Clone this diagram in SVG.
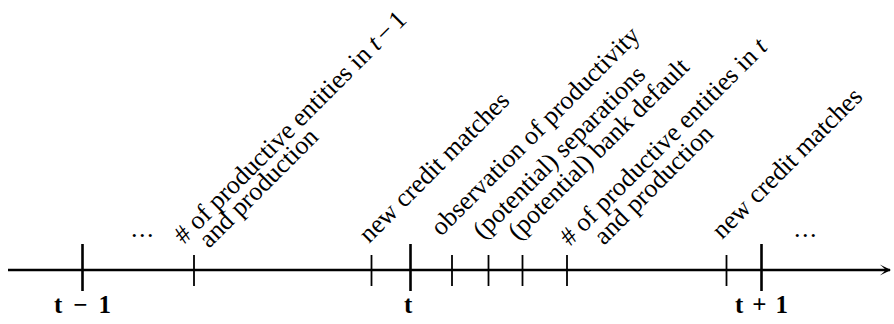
<svg xmlns="http://www.w3.org/2000/svg" width="894" height="324" viewBox="0 0 894 324">
<defs>
<style>
.lbl{font-family:'Liberation Serif','Times New Roman',serif;font-size:26px;fill:#000}
.tl{font-family:'Liberation Serif','DejaVu Serif',serif;font-weight:bold;font-size:25px;fill:#000}
.dots{font-family:'Liberation Serif',serif;font-size:26px;letter-spacing:1.5px;fill:#000}
.major{stroke:#000;stroke-width:2.6}
.minor{stroke:#000;stroke-width:1.8}
.axis{stroke:#000;stroke-width:2.4;fill:none}
</style>
<marker id="arr" viewBox="0 0 10 10" refX="9" refY="5" markerWidth="5" markerHeight="5" orient="auto" markerUnits="strokeWidth">
<path d="M0.5,0.5 Q5,4 5,5 Q5,6 0.5,9.5 L10,5 Z" fill="#000"/>
</marker>
</defs>
<rect width="894" height="324" fill="#fff"/>
<g id="connectors">
<line class="axis" x1="8" y1="270" x2="890" y2="270" marker-end="url(#arr)"/>
</g>
<g id="ticks">
<line class="major" x1="82.5" y1="244" x2="82.5" y2="291"/>
<line class="major" x1="410.5" y1="244" x2="410.5" y2="291"/>
<line class="major" x1="761.5" y1="244" x2="761.5" y2="291"/>
<line class="minor" x1="194" y1="255" x2="194" y2="286"/>
<line class="minor" x1="371.5" y1="255" x2="371.5" y2="286"/>
<line class="minor" x1="452" y1="255" x2="452" y2="286"/>
<line class="minor" x1="488.5" y1="255" x2="488.5" y2="286"/>
<line class="minor" x1="522.5" y1="255" x2="522.5" y2="286"/>
<line class="minor" x1="567" y1="255" x2="567" y2="286"/>
<line class="minor" x1="726.5" y1="255" x2="726.5" y2="286"/>
</g>
<g id="time-labels">
<text class="tl" x="54" y="313">t<tspan dx="11">−</tspan><tspan dx="11">1</tspan></text>
<text class="tl" x="404" y="313">t</text>
<text class="tl" x="735" y="313">t<tspan dx="9">+</tspan><tspan dx="9">1</tspan></text>
</g>
<g id="dots">
<text class="dots" x="131" y="237">...</text>
<text class="dots" x="794" y="237">...</text>
</g>
<g id="ev1">
<text class="lbl" transform="translate(184,245) rotate(-45)"># of productive entities in <tspan font-style="italic">t</tspan><tspan dx="4">−</tspan><tspan dx="4">1</tspan></text>
<text class="lbl" transform="translate(209,249) rotate(-45)">and production</text>
</g>
<g id="ev2"><text class="lbl" transform="translate(369,244) rotate(-45)">new credit matches</text></g>
<g id="ev3"><text class="lbl" transform="translate(441,237) rotate(-45)">observation of productivity</text></g>
<g id="ev4"><text class="lbl" transform="translate(483,240) rotate(-45)">(potential) separations</text></g>
<g id="ev5"><text class="lbl" transform="translate(518,241) rotate(-45)">(potential) bank default</text></g>
<g id="ev6">
<text class="lbl" transform="translate(570,247) rotate(-45)"># of productive entities in <tspan font-style="italic">t</tspan></text>
<text class="lbl" transform="translate(604,246) rotate(-45)">and production</text>
</g>
<g id="ev7"><text class="lbl" transform="translate(722,240) rotate(-45)">new credit matches</text></g>
</svg>
